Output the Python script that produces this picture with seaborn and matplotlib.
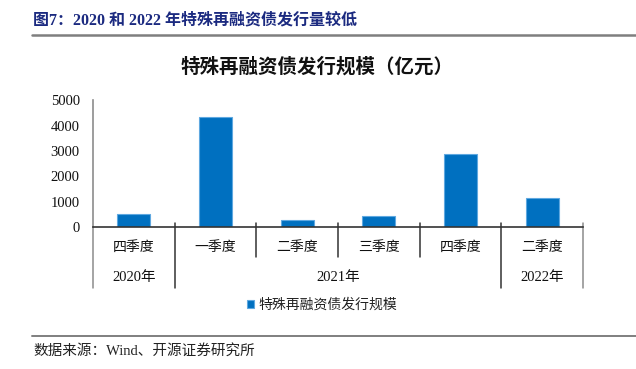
import matplotlib.pyplot as plt
import matplotlib.transforms as mtransforms
import pandas as pd
import seaborn as sb

# data (亿元)
years = ["2020年", "2021年", "2021年", "2021年", "2021年", "2022年"]
quarters = ["四季度", "一季度", "二季度", "三季度", "四季度", "二季度"]
values = [500, 4330, 290, 430, 2900, 1150]
yticks = [0, 1000, 2000, 3000, 4000, 5000]
series_name = "特殊再融资债发行规模"

if __name__ == "__main__":
    sb.set_theme(style="white")
    fonts = ["Liberation Serif", "Noto Sans CJK SC", "DejaVu Sans"]
    plt.rcParams["font.family"] = fonts

    df = pd.DataFrame({"period": [y + q for y, q in zip(years, quarters)],
                       "value": values})

    fig = plt.figure(figsize=(6.36, 3.69), dpi=100)
    W, H = 636, 369
    ax = fig.add_axes([93 / W, (H - 227) / H, 490 / W, 126.7 / H])

    sb.barplot(data=df, x="period", y="value", ax=ax, color="#0070C0",
               width=0.4, saturation=1, edgecolor="#5fa8e0", linewidth=0.8,
               label=series_name)

    ax.set_xlim(-0.5, len(values) - 0.5)
    ax.set_ylim(0, 5000)
    ax.set_yticks(yticks)
    ax.set_yticklabels([str(t) for t in yticks], fontsize=10.5)
    ax.set_xticks([])
    ax.set_xlabel("")
    ax.set_ylabel("")
    ax.tick_params(axis="y", direction="in", length=4.5, width=1,
                   color="#555555", pad=9.5, labelcolor="#111111")

    for s in ["top", "right"]:
        ax.spines[s].set_visible(False)
    ax.spines["left"].set_color("#8c8c8c")
    ax.spines["left"].set_linewidth(1.2)
    ax.spines["bottom"].set_color("#333333")
    ax.spines["bottom"].set_linewidth(1.2)

    # category separators below the axis
    trans = mtransforms.blended_transform_factory(ax.transData, ax.transAxes)
    n = len(values)
    for i in range(n + 1):
        xpos = i - 0.5
        long_line = i == 0 or i == n or years[i - 1] != years[i]
        bottom = -0.481 if long_line else -0.237
        top = 0.0 if i == 0 else 0.028
        col = "#8c8c8c" if i in (0, n) else "#333333"
        ax.plot([xpos, xpos], [top, bottom], transform=trans, color=col,
                lw=1.1, clip_on=False)

    for i, q in enumerate(quarters):
        ax.text(i, -0.163, q, transform=trans, ha="center", va="center",
                fontsize=10, color="#111111")

    # year labels centred on their groups
    groups = []
    for i, y in enumerate(years):
        if groups and groups[-1][0] == y:
            groups[-1][2] = i
        else:
            groups.append([y, i, i])
    for y, a, b in groups:
        ax.text((a + b) / 2, -0.40, y, transform=trans, ha="center",
                va="center", fontsize=10.5, color="#111111")

    # legend
    leg = ax.legend(loc="center", bbox_to_anchor=(322 / W, 1 - 305 / H),
                    bbox_transform=fig.transFigure, frameon=False,
                    handlelength=0.55, handleheight=0.55, handletextpad=0.3,
                    fontsize=10)
    for t in leg.get_texts():
        t.set_color("#222222")

    # chart title
    fig.text(317 / W, 1 - 67 / H, "特殊再融资债发行规模（亿元）", ha="center",
             va="center", fontsize=14, fontweight="bold", color="#111111")

    # report header and footer
    fig.text(33 / W, 1 - 20 / H, "图7：2020 和 2022 年特殊再融资债发行量较低",
             ha="left", va="center", fontsize=11.5, fontweight="bold",
             color="#1b2a80")
    fig.add_artist(plt.Line2D([32 / W, 1], [1 - 34.5 / H, 1 - 34.5 / H],
                              transform=fig.transFigure, color="#7f7f7f",
                              lw=1.8))
    fig.add_artist(plt.Line2D([32 / W, 1], [1 - 336 / H, 1 - 336 / H],
                              transform=fig.transFigure, color="#7f7f7f",
                              lw=1.4))
    fig.text(33 / W, 1 - 351 / H, "数据来源：Wind、开源证券研究所", ha="left",
             va="center", fontsize=10.5, color="#222222")

    fig.savefig("out.png", dpi=100)
